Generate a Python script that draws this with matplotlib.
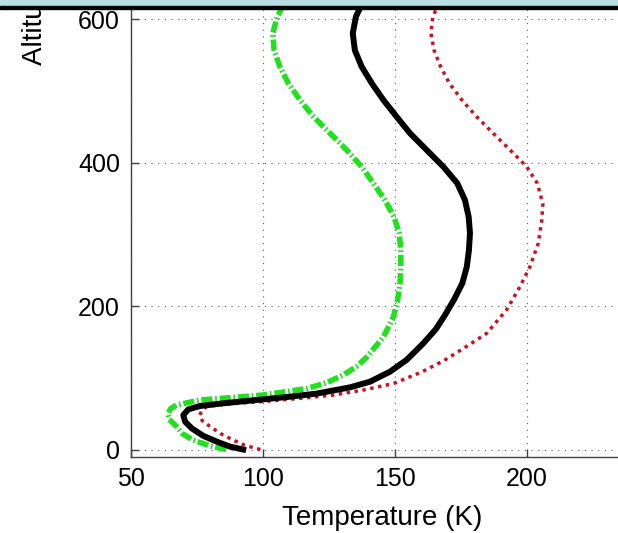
import matplotlib
matplotlib.use("Agg")
import matplotlib.pyplot as plt
from matplotlib.patches import Rectangle

plt.rcParams['font.family'] = ['Liberation Sans', 'DejaVu Sans']

# temperature profiles (T in K, altitude)
temp_black = [92.5, 87.5, 82.5, 77.4, 73, 70.5, 69.8, 71.7, 76.1, 85, 100, 110.2,
              120.3, 133, 140.5, 148.1, 154.4, 160.7, 165.5, 169, 172.5, 175.5,
              177.2, 178, 178.4, 177.9, 176.5, 173.6, 168.3, 162, 155.7, 150.6,
              145.6, 141.2, 137.4, 134.8, 134, 135.2, 136.7, 139]
alt_black = [0, 4, 11, 19, 29.6, 38.8, 48, 56, 60.7, 64.5, 70, 73.7,
             78, 86.8, 94.6, 108.6, 125, 148, 168, 188, 210, 232,
             255, 278, 302, 324.8, 348, 371.4, 394.6, 417.9, 441.2, 464.4,
             487.7, 511, 534, 557, 580.7, 604, 615.6, 640]

temp_green = [86, 80, 73.6, 69.5, 67.3, 64.5, 64, 65, 67.3, 76, 90, 100, 116.5,
              124, 130.4, 135.5, 139.3, 145.6, 149.4, 151, 151.9, 152.2, 152.2,
              151.6, 149.6, 146.2, 141.8, 137.4, 131.7, 125.4, 119.1, 114, 109.6,
              106.4, 104.2, 103.7, 105.4, 107.1, 110]
alt_green = [0, 5, 13, 22, 32, 42, 50, 57, 62, 69, 73, 76, 85,
             93, 104, 116, 129, 157, 185, 208.6, 231.9, 255, 278,
             301.7, 324.8, 348, 371.4, 394.6, 417.9, 441.2, 464.4, 487.7, 511,
             534, 557, 580.7, 604, 615.6, 635]

temp_red = [99, 93, 88.8, 84, 80, 77, 76, 77, 78.7, 85, 100, 113, 126.6, 138,
            149.4, 160, 168.5, 175.5, 184.7, 192.3, 197.3, 201.1, 204.3, 205.6,
            206, 203.9, 199.9, 193.6, 187.2, 180.9, 175.3, 170.6, 167.3,
            164.8, 163.6, 164.3, 165.8, 168]
alt_red = [0, 6, 13, 22, 32, 40, 48, 55, 60, 63, 67, 71, 76, 83,
           92, 108, 124, 140, 162, 195, 227, 255, 288, 320,
           343, 371.4, 394.6, 417.9, 441.2, 464.4, 487.7, 511, 534,
           557, 580.7, 604, 615.6, 635]

x_ticks = [50, 100, 150, 200]
y_ticks = [0, 200, 400, 600]

fig = plt.figure(figsize=(6.18, 5.33), dpi=100)
ax = fig.add_axes([0.2120, 0.1432, 0.8116, 0.9547])

ax.plot(temp_green, alt_green, color='#20e020', lw=4, linestyle=(0, (2, 0.5, 0.3, 0.5)))
ax.plot(temp_red, alt_red, color='#cc1122', lw=2.5, linestyle=(0, (1, 1.3)))
ax.plot(temp_black, alt_black, color='black', lw=4.3, solid_joinstyle='round')

ax.set_xlim(50, 240)
ax.set_ylim(-10, 700)
ax.set_xticks(x_ticks)
ax.set_yticks(y_ticks)
ax.grid(True, linestyle=(0, (1, 5)), color='0.35', lw=0.8)
ax.set_axisbelow(True)

for sp in ax.spines.values():
    sp.set_color('0.25')
    sp.set_linewidth(1)
ax.tick_params(direction='in', length=6, width=1, color='0.25', labelsize=18)
ax.tick_params(axis='x', pad=7.6)
ax.tick_params(axis='y', pad=8)

ax.set_xlabel("Temperature (K)", fontsize=20)
ax.xaxis.label.set_va('baseline')
ax.xaxis.set_label_coords(0.5, -0.1342)

# y label is cut off by the top edge, as in the screenshot
ax.text(-0.1914, 0.7697, "Altitude (km)", transform=ax.transAxes, fontsize=20,
        rotation=90, rotation_mode='anchor', ha='left', va='center', clip_on=False)

# window title strip across the top
fig.add_artist(Rectangle((0, 1 - 6 / 533), 1, 6 / 533, transform=fig.transFigure,
                         color='#b9dee3', zorder=10))
fig.add_artist(Rectangle((0, 1 - 8.5 / 533), 1, 2.5 / 533, transform=fig.transFigure,
                         color='black', zorder=10))

fig.savefig("out.png", dpi=100)
